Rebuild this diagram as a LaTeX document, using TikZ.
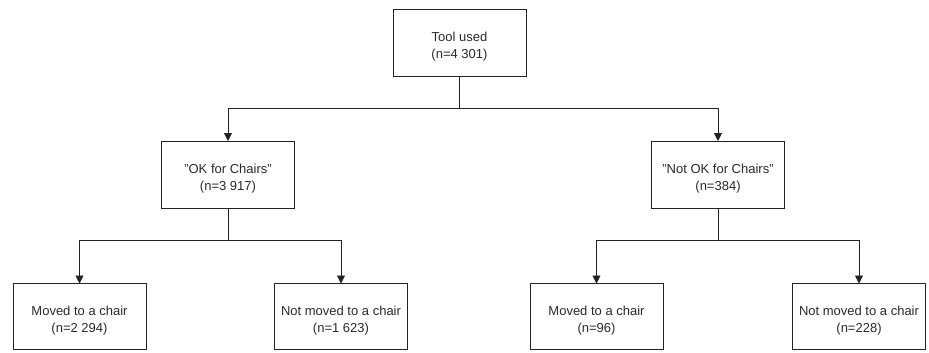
\documentclass[tikz,border=0pt]{standalone}
\usepackage{fontspec}
\setmainfont{Liberation Sans}
\usetikzlibrary{arrows.meta,positioning}
\definecolor{boxline}{HTML}{222222}
\definecolor{boxtext}{HTML}{2A2A2A}
\newcommand{\boxlines}[2]{\rule{0pt}{18pt}#1\\#2}

\begin{document}
\begin{tikzpicture}[
  x=1pt, y=-1pt,
  every node/.style={font=\fontsize{13}{17}\selectfont, text=boxtext},
  box/.style={draw=boxline, line width=0.8pt, minimum width=133pt,
    minimum height=67pt, align=center, inner sep=2pt, outer sep=0pt},
  link/.style={draw=boxline, line width=0.9pt},
  arrow/.style={link, -{Triangle[length=8pt,width=8pt]}}]
\useasboundingbox (0,0) rectangle (929,353);
% root
\node[box] (tool) at (459.5,42.5) {\boxlines{Tool used}{(n=4 301)}};
% middle level
\node[box] (ok) at (228,174.5) {\boxlines{"OK for Chairs"}{(n=3 917)}};
\node[box] (notok) at (718,174.5) {\boxlines{"Not OK for Chairs"}{(n=384)}};
% bottom level
\node[box, minimum height=66pt] (okmoved) at (79.5,316.5) {\boxlines{Moved to a chair}{(n=2 294)}};
\node[box, minimum height=66pt] (oknotmoved) at (341,316.5) {\boxlines{Not moved to a chair}{(n=1 623)}};
\node[box, minimum height=66pt] (notokmoved) at (596.5,316.5) {\boxlines{Moved to a chair}{(n=96)}};
\node[box, minimum height=66pt] (notoknotmoved) at (859,316.5) {\boxlines{Not moved to a chair}{(n=228)}};
% junctions
\coordinate (split) at (459.5,108);
\coordinate (oksplit) at (228,240);
\coordinate (notoksplit) at (718,240);
\draw[link] (tool.south) -- (split);
\draw[link] (ok.south) -- (oksplit);
\draw[link] (notok.south) -- (notoksplit);
\foreach \src/\dst in {split/ok, split/notok, oksplit/okmoved, oksplit/oknotmoved,
                        notoksplit/notokmoved, notoksplit/notoknotmoved} {
  \draw[arrow] (\src) -| (\dst.north);}
\end{tikzpicture}
\end{document}
